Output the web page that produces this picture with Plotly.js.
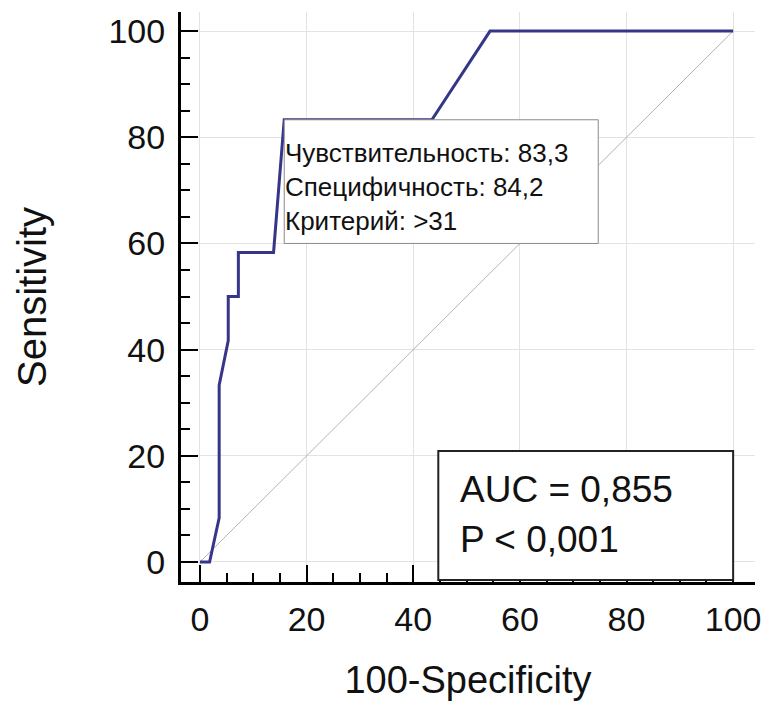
<!DOCTYPE html>
<html>
<head>
<meta charset="utf-8">
<script src="https://cdn.plot.ly/plotly-3.0.1.min.js"></script>
<style>html,body{margin:0;padding:0;background:#fff;}#chart{width:769px;height:709px;}</style>
</head>
<body>
<div id="chart"></div>
<script>
// ROC curve points (100-Specificity, Sensitivity)
const fpr = [0, 1.8, 3.6, 3.6, 5.3, 5.3, 7.2, 7.2, 13.8, 15.8, 43.5, 54.4, 100];
const tpr = [0, 0, 8.3, 33.3, 41.7, 50, 50, 58.3, 58.3, 83.3, 83.3, 100, 100];
// Reference (chance) line
const diagX = [0, 100];
const diagY = [0, 100];
// Tick values
const tickVals = [0, 20, 40, 60, 80, 100];
// Annotation texts
const cutoffLines = ["Чувствительность: 83,3", "Специфичность: 84,2", "Критерий: >31"];
const aucLines = ["AUC = 0,855", "P < 0,001"];
// Optimal cutoff point
const cutX = 15.8, cutY = 83.3;

const FONT = "Liberation Sans, Arial, sans-serif";

const traces = [
  {x: diagX, y: diagY, mode: "lines", line: {color: "#b4b4b4", width: 1}, hoverinfo: "skip", showlegend: false},
  {x: fpr, y: tpr, mode: "lines", line: {color: "#363688", width: 3}, showlegend: false}
];

const axisCommon = {
  showline: true, linecolor: "#000", linewidth: 3, mirror: false,
  ticks: "inside", ticklen: 17, tickwidth: 2, tickcolor: "#000",
  tickvals: tickVals, showgrid: true, gridcolor: "#e3e3e3", gridwidth: 1,
  zeroline: false,
  tickfont: {family: FONT, size: 34, color: "#111"},
  minor: {dtick: 5, tick0: 0, ticks: "inside", ticklen: 9, tickwidth: 2, tickcolor: "#000", showgrid: false},
  fixedrange: true
};

const annotations = [];
const lineSpacing = 6.4;
cutoffLines.forEach((t, i) => {
  annotations.push({x: cutX, y: 77.1 - i * lineSpacing, xref: "x", yref: "y", text: t, showarrow: false,
    xanchor: "left", yanchor: "middle", xshift: -1, font: {family: FONT, size: 26, color: "#111"}});
});
aucLines.forEach((t, i) => {
  annotations.push({x: 48.4, y: 13.7 - i * 9.4, xref: "x", yref: "y", text: t, showarrow: false,
    xanchor: "left", yanchor: "middle", font: {family: FONT, size: 37, color: "#111"}});
});

const layout = {
  width: 769, height: 709,
  margin: {l: 181, r: 14, t: 12, b: 127},
  paper_bgcolor: "#fff", plot_bgcolor: "#fff",
  xaxis: Object.assign({}, axisCommon, {range: [-3.56, 104.1], ticklabelstandoff: 5,
    title: {text: "100-Specificity", font: {family: FONT, size: 38, color: "#111"}, standoff: 30}}),
  yaxis: Object.assign({}, axisCommon, {range: [-3.77, 103.6], ticklabelstandoff: 6,
    title: {text: "Sensitivity", font: {family: FONT, size: 40, color: "#111"}, standoff: 50}}),
  shapes: [
    {type: "rect", xref: "x", yref: "y", x0: cutX, x1: 74.7, y0: 60, y1: cutY,
      line: {color: "#8a8a8a", width: 1}, fillcolor: "#fff", layer: "above"},
    {type: "rect", xref: "x", yref: "y", x0: 44.7, x1: 100, y0: -3.4, y1: 20.9,
      line: {color: "#222", width: 2}, fillcolor: "#fff", layer: "above"}
  ],
  annotations: annotations,
  showlegend: false
};

Plotly.newPlot("chart", traces, layout, {displayModeBar: false, staticPlot: true});
</script>
</body>
</html>
